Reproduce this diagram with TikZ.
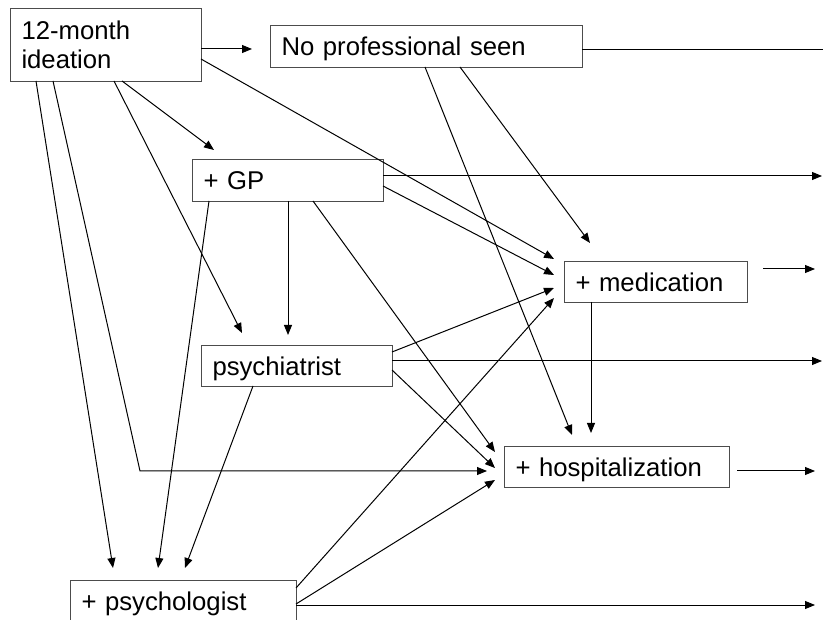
\documentclass[tikz,border=0pt]{standalone}
\usepackage{fontspec}
\setmainfont{Liberation Sans}
\usetikzlibrary{arrows.meta,calc}
\begin{document}
\begin{tikzpicture}[x=1pt,y=-1pt,
  box/.style={draw=black!70, line width=1pt, anchor=north west, inner xsep=11pt, inner ysep=0pt,
    align=left, font=\fontsize{25.7}{29}\selectfont},
  one/.style={text height=21pt, text depth=2pt},
  arr/.style={-{Triangle[length=10pt,width=8pt]}, line width=1pt},
  ln/.style={line width=1pt}]
\path[use as bounding box, clip] (0,0) rectangle (823,620);
\fill[white] (0,0) rectangle (823,620);
% nodes
\node[box, text width=169pt, minimum height=73pt] (ide) at (10,8) {12-month\\ideation};
\node[box, one, text width=290pt, minimum height=42pt] (nop) at (270,25) {No professional seen};
\node[box, one, text width=169pt, minimum height=42pt] (gp) at (192,159) {+ GP};
\node[box, one, text width=169pt, minimum height=41pt] (psy) at (201,345) {psychiatrist};
\node[box, one, text width=161pt, minimum height=41pt] (med) at (564,261) {+ medication};
\node[box, one, text width=203pt, minimum height=41pt] (hosp) at (504,446) {+ hospitalization};
\node[box, one, text width=204pt, minimum height=41pt] (pgl) at (70,580) {+ psychologist};
% free ends
\coordinate (nopR) at (823,50);
\coordinate (gpR) at (822,176);
\coordinate (psyR) at (822,361);
\coordinate (medR) at (815,269);
\coordinate (hospR) at (815,471);
\coordinate (pglR) at (815,605);
\coordinate (bend) at (140,471);
% connectors
\draw[arr] ($(ide.north west)+(191,41)$) -- ($(nop.north west)+(-18,24)$);
\draw[ln] ($(nop.north west)+(312,25)$) -- (nopR);
\draw[arr] ($(ide.north west)+(191,51)$) -- ($(med.north west)+(-10,-2)$);
\draw[arr] ($(ide.north west)+(112,73)$) -- ($(gp.north west)+(22,-9)$);
\draw[arr] ($(ide.north west)+(104,73)$) -- ($(psy.north west)+(41,-12)$);
\draw[arr] ($(ide.north west)+(26,73)$) -- ($(pgl.north west)+(43,-12)$);
\draw[arr] ($(ide.north west)+(43,73)$) -- (bend) -- ($(hosp.north west)+(-17,25)$);
\draw[arr] ($(gp.north west)+(191,17)$) -- (gpR);
\draw[arr] ($(gp.north west)+(191,27)$) -- ($(med.north west)+(-10,14)$);
\draw[arr] ($(gp.north west)+(96,42)$) -- ($(psy.north west)+(87,-10)$);
\draw[arr] ($(gp.north west)+(121,42)$) -- ($(hosp.north west)+(-9,6)$);
\draw[arr] ($(gp.north west)+(17,42)$) -- ($(pgl.north west)+(88,-12)$);
\draw[arr] ($(nop.north west)+(190,42)$) -- ($(med.north west)+(26,-18)$);
\draw[arr] ($(nop.north west)+(155,42)$) -- ($(hosp.north west)+(68,-11)$);
\draw[arr] ($(psy.north west)+(191,7)$) -- ($(med.north west)+(-10,27)$);
\draw[arr] ($(psy.north west)+(191,16)$) -- (psyR);
\draw[arr] ($(psy.north west)+(191,25)$) -- ($(hosp.north west)+(-9,22)$);
\draw[arr] ($(psy.north west)+(52,41)$) -- ($(pgl.north west)+(115,-12)$);
\draw[arr] ($(med.north west)+(27,41)$) -- ($(hosp.north west)+(87,-13)$);
\draw[arr] ($(med.north west)+(199,8)$) -- (medR);
\draw[arr] ($(hosp.north west)+(233,25)$) -- (hospR);
\draw[arr] ($(pgl.north west)+(226,8)$) -- ($(med.north west)+(-10,37)$);
\draw[arr] ($(pgl.north west)+(226,24)$) -- ($(hosp.north west)+(-9,34)$);
\draw[arr] ($(pgl.north west)+(226,25)$) -- (pglR);
\end{tikzpicture}
\end{document}
